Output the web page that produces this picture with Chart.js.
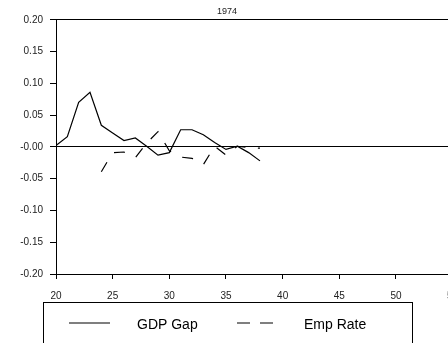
<!DOCTYPE html>
<html>
<head>
<meta charset="utf-8">
<script src="https://cdn.jsdelivr.net/npm/chart.js@4.4.0/dist/chart.umd.min.js"></script>
<style>
  html, body { margin: 0; padding: 0; background: #fff; overflow: hidden; }
  #wrap { width: 448px; height: 343px; overflow: hidden; }
</style>
</head>
<body>
<div id="wrap"><canvas id="chart" width="466" height="343"></canvas></div>
<script>
const gdpYears = [20, 21, 22, 23, 24, 25, 26, 27, 28, 29, 30, 31, 32, 33, 34, 35, 36, 37, 38];
const gdpGap = [0.002, 0.016, 0.070, 0.086, 0.034, 0.022, 0.010, 0.014, 0.001, -0.013, -0.009, 0.027, 0.027, 0.019, 0.007, -0.004, 0.001, -0.009, -0.022];

const empYears = [20, 20, 23, 24, 25, 26, 27, 28, 29, 30, 31, 32, 33, 34, 35, 36, 37, 38];
const empRate = [0.000, -0.016, null, -0.039, -0.009, -0.008, -0.017, 0.006, 0.024, -0.006, -0.016, -0.018, -0.028, 0.001, -0.013, 0.001, -0.001, -0.002];

const xTicks = [20, 25, 30, 35, 40, 45, 50, 55];
const xTickLabels = ['20', '25', '30', '35', '40', '45', '50', '55'];
const yTicks = [-0.20, -0.15, -0.10, -0.05, 0, 0.05, 0.10, 0.15, 0.20];
const yTickLabels = ['-0.20', '-0.15', '-0.10', '-0.05', '-0.00', '0.05', '0.10', '0.15', '0.20'];

const seriesLabels = ['GDP Gap', 'Emp Rate'];
const chartTitle = '1974';

Chart.defaults.font.family = '"Liberation Sans", Arial, sans-serif';
Chart.defaults.color = '#222';

// legend drawn in a box under the plot, like the original figure
const boxLegend = {
  id: 'boxLegend',
  afterDraw(chart) {
    const ctx = chart.ctx;
    const slots = [{ x0: 69, x1: 110, tx: 137 }, { x0: 237, x1: 273, tx: 304 }];
    ctx.save();
    ctx.strokeStyle = '#000';
    ctx.lineWidth = 1;
    ctx.strokeRect(43.5, 302.5, 369, 60);
    ctx.font = '14px "Liberation Sans", Arial, sans-serif';
    ctx.textBaseline = 'middle';
    ctx.fillStyle = '#000';
    chart.data.datasets.forEach((ds, i) => {
      const s = slots[i];
      ctx.setLineDash(i === 1 ? [13, 10] : []);
      ctx.lineWidth = 1.2;
      ctx.beginPath();
      ctx.moveTo(s.x0, 323);
      ctx.lineTo(s.x1, 323);
      ctx.stroke();
      ctx.setLineDash([]);
      ctx.fillText(ds.label, s.tx, 325);
    });
    ctx.restore();
  }
};

new Chart(document.getElementById('chart'), {
  type: 'line',
  data: {
    datasets: [
      {
        label: seriesLabels[0],
        data: gdpYears.map((x, i) => ({ x, y: gdpGap[i] })),
        borderColor: '#000',
        borderWidth: 1.2,
        pointRadius: 0,
        tension: 0
      },
      {
        label: seriesLabels[1],
        data: empYears.map((x, i) => ({ x, y: empRate[i] })),
        borderColor: '#000',
        borderWidth: 1.2,
        borderDash: [11, 12.5],
        pointRadius: 0,
        tension: 0,
        spanGaps: false
      }
    ]
  },
  options: {
    responsive: false,
    animation: false,
    layout: { padding: { left: 0, right: 12, top: 0, bottom: 0 } },
    plugins: {
      legend: { display: false },
      tooltip: { enabled: false },
      title: {
        display: true,
        text: chartTitle,
        color: '#222',
        font: { size: 9, weight: 'normal' },
        padding: { top: 6, bottom: 3 }
      }
    },
    scales: {
      x: {
        type: 'linear',
        min: 20,
        max: 55.12,
        afterBuildTicks: s => { s.ticks = xTicks.map(v => ({ value: v })); },
        afterFit: s => { s.height = 69; s.paddingLeft = 0; s.paddingRight = 0; },
        ticks: {
          callback: (v, i) => xTickLabels[i],
          font: { size: 10 },
          padding: 11,
          maxRotation: 0
        },
        grid: { color: 'transparent', tickColor: '#000', tickLength: 5 },
        border: { display: true, color: '#000', width: 1 }
      },
      y: {
        min: -0.2,
        max: 0.2,
        afterBuildTicks: s => { s.ticks = yTicks.map(v => ({ value: v })); },
        afterFit: s => { s.width = 56; s.paddingTop = 0; s.paddingBottom = 0; },
        ticks: {
          callback: (v, i) => yTickLabels[i],
          font: { size: 10 },
          padding: 7
        },
        grid: {
          color: c => (c.tick && (c.tick.value === 0 || c.tick.value === 0.2)) ? '#000' : 'transparent',
          tickColor: '#000',
          tickLength: 6
        },
        border: { display: true, color: '#000', width: 1 }
      }
    }
  },
  plugins: [boxLegend]
});
</script>
</body>
</html>
